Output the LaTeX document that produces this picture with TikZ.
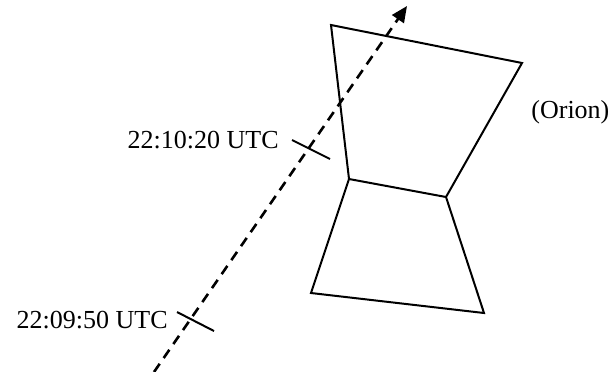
\documentclass[tikz,border=0pt]{standalone}
\usepackage{fontspec}
\setmainfont{Liberation Serif}
\usetikzlibrary{arrows.meta}

\begin{document}
\begin{tikzpicture}[
    x=0.5pt, y=-0.5pt,
    edge/.style={line width=1pt, line join=miter},
    track/.style={-{Triangle[length=8pt,width=7pt]}, line width=1.3pt, dash pattern=on 5pt off 3.5pt},
    tick/.style={line width=1pt},
    label/.style={font=\fontsize{13}{15}\selectfont, inner sep=0pt}
]
    \useasboundingbox (0,0) rectangle (613,371);

    % outline of the constellation
    \coordinate (tl) at (331,25);
    \coordinate (tr) at (522,63);
    \coordinate (ml) at (349,179);
    \coordinate (mr) at (446,197);
    \coordinate (bl) at (311,293);
    \coordinate (br) at (484,313);
    \draw[edge] (tl) -- (tr) -- (mr) -- (br) -- (bl) -- (ml) -- cycle;
    \draw[edge] (ml) -- (mr);
    \node[label, anchor=west] (orion) at (531,112) {(Orion)};

    % path with time marks
    \coordinate (start) at (154,372);
    \coordinate (tip) at (407,6);
    \draw[track] (start) -- (tip);

    \coordinate (t1a) at (292,140);
    \coordinate (t1b) at (330,159);
    \coordinate (t2a) at (177,312);
    \coordinate (t2b) at (214,331);
    \draw[tick] (t1a) -- (t1b);
    \draw[tick] (t2a) -- (t2b);

    \node[label, anchor=east] (late) at (279,140) {22:10:20 UTC};
    \node[label, anchor=east] (early) at (168,320) {22:09:50 UTC};
\end{tikzpicture}
\end{document}
